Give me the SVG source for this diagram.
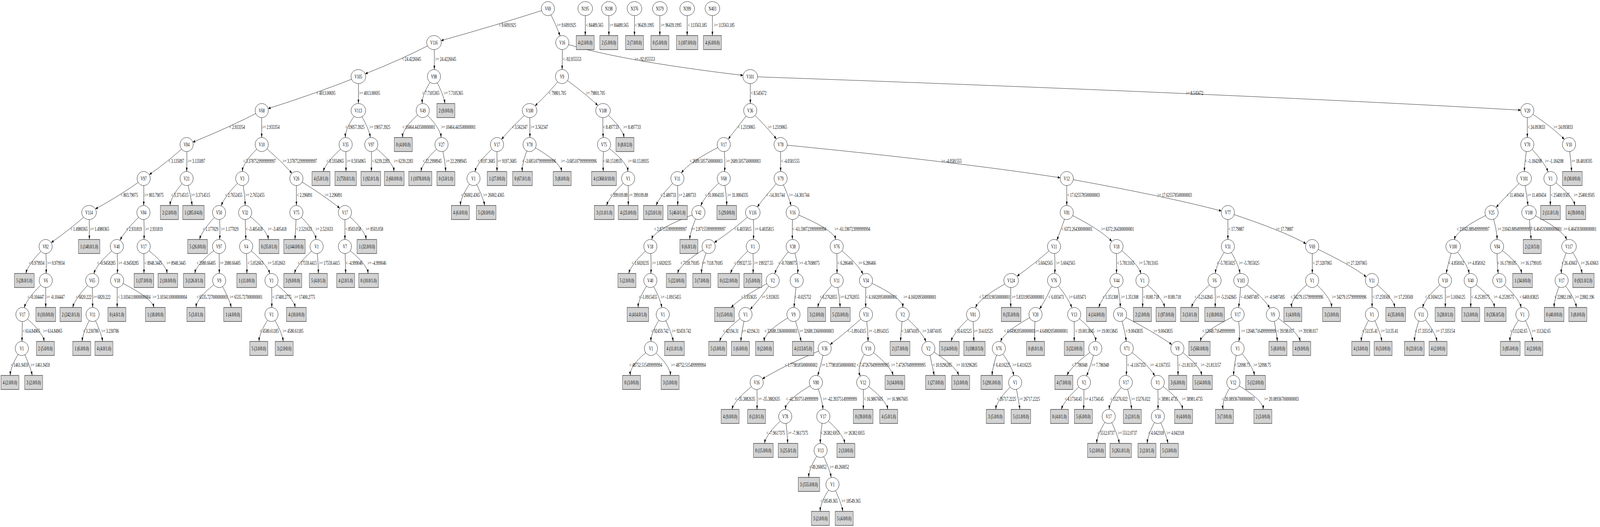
<svg xmlns="http://www.w3.org/2000/svg" width="6559" height="1349" viewBox="0 0 6559 1349" preserveAspectRatio="none">
<style>
svg:root{width:100vw;height:100vh}
text{font-family:"Liberation Serif","DejaVu Serif",serif;font-size:14px;text-anchor:middle;fill:#000}
.n ellipse{fill:#fff;stroke:#000;stroke-width:1}
.l rect{fill:#d3d3d3;stroke:#000;stroke-width:1}
#edges path{fill:none;stroke:#000;stroke-width:1;marker-end:url(#ah)}
</style>
<defs>
<marker id="ah" viewBox="0 0 10 7" refX="10" refY="3.5" markerWidth="10" markerHeight="7" orient="auto" markerUnits="userSpaceOnUse"><path d="M0,0L10,3.5L0,7z" fill="#000"/></marker>
</defs>
<rect x="0" y="0" width="6559" height="1349" fill="#fff"/>
<g id="edges">
<path d="M2246,22Q2030,65.5 1808,104"/>
<path d="M2246,22Q2281,65.5 2296,92"/>
<path d="M2399,22Q2400,65.5 2399,91"/>
<path d="M2496,22Q2496,65.5 2496,91"/>
<path d="M2601,22Q2601,65.5 2601,91"/>
<path d="M2705,22Q2705,65.5 2705,91"/>
<path d="M2817,22Q2817,65.5 2817,91"/>
<path d="M2920.5,22Q2920.5,65.5 2920.5,91"/>
<path d="M1779,109Q1646,152.5 1497,189"/>
<path d="M1779,109Q1782,152.5 1780,178"/>
<path d="M1469,196Q1295,239.5 1099,278"/>
<path d="M1469,196Q1470,239.5 1469,265"/>
<path d="M1779,196Q1729,239.5 1731,265"/>
<path d="M1779,196Q1818,239.5 1824,265"/>
<path d="M1073,283Q938,326.5 790,364"/>
<path d="M1073,283Q1072,326.5 1073,352"/>
<path d="M1469,283Q1414,326.5 1416,352"/>
<path d="M1469,283Q1512,326.5 1518,352"/>
<path d="M1733,283Q1648,326.5 1651,352"/>
<path d="M1733,283Q1806,326.5 1808,352"/>
<path d="M765,370Q689,413.5 612,447"/>
<path d="M765,370Q767,413.5 765,439"/>
<path d="M1073,370Q995,413.5 994,439"/>
<path d="M1073,370Q1156,413.5 1197,444"/>
<path d="M1417,370Q1337,413.5 1325,439"/>
<path d="M1417,370Q1419,413.5 1418,439"/>
<path d="M1522,370Q1524,413.5 1522,439"/>
<path d="M1522,370Q1613,413.5 1615,439"/>
<path d="M1810,370Q1731,413.5 1726,439"/>
<path d="M1810,370Q1825,413.5 1827,439"/>
<path d="M589,457Q493,500.5 391,535"/>
<path d="M589,457Q590,500.5 589,526"/>
<path d="M765,457Q700,500.5 697,526"/>
<path d="M765,457Q781,500.5 788,526"/>
<path d="M993,457Q921,500.5 907,527"/>
<path d="M993,457Q1004,500.5 1005,526"/>
<path d="M1215,457Q1215,500.5 1215,526"/>
<path d="M1215,457Q1329,500.5 1393,533"/>
<path d="M365,544Q287,587.5 210,621"/>
<path d="M365,544Q367,587.5 366,613"/>
<path d="M588,544Q515,587.5 492,615"/>
<path d="M588,544Q593,587.5 590,613"/>
<path d="M898,544Q829,587.5 818,613"/>
<path d="M898,544Q904,587.5 900,613"/>
<path d="M1005,544Q1006,587.5 1008,613"/>
<path d="M1005,544Q1096,587.5 1100,613"/>
<path d="M1215,544Q1212,587.5 1209,613"/>
<path d="M1215,544Q1291,587.5 1295,613"/>
<path d="M1414,544Q1414,587.5 1414,613"/>
<path d="M1414,544Q1497,587.5 1501,613"/>
<path d="M187,631Q116,674.5 106,700"/>
<path d="M187,631Q191,674.5 189,700"/>
<path d="M479,631Q396,674.5 385,701"/>
<path d="M479,631Q483,674.5 481,700"/>
<path d="M589,631Q591,674.5 590,700"/>
<path d="M589,631Q681,674.5 685,700"/>
<path d="M898,631Q804,674.5 799,700"/>
<path d="M898,631Q899,674.5 899,700"/>
<path d="M1009,631Q1013,674.5 1012,700"/>
<path d="M1009,631Q1095,674.5 1106,701"/>
<path d="M1298,631Q1218,674.5 1207,700"/>
<path d="M1298,631Q1305,674.5 1305,700"/>
<path d="M1414,631Q1416,674.5 1417,700"/>
<path d="M1414,631Q1505,674.5 1509,700"/>
<path d="M187.5,718Q111,761.5 99.5,788"/>
<path d="M187.5,718Q187,761.5 187.5,787"/>
<path d="M378,718Q309,761.5 298,787"/>
<path d="M378,718Q379,761.5 380,787"/>
<path d="M480,718Q481,761.5 480,787"/>
<path d="M480,718Q623,761.5 631,787"/>
<path d="M898.5,718Q805,761.5 804,787"/>
<path d="M898.5,718Q939,761.5 948,787"/>
<path d="M1113,718Q1115,761.5 1114,787"/>
<path d="M1113,718Q1204,761.5 1210,787"/>
<path d="M92,805Q91,848.5 90,874"/>
<path d="M92,805Q175,848.5 181,874"/>
<path d="M379.6,805Q339,848.5 337,874"/>
<path d="M379.6,805Q414,848.5 421,874"/>
<path d="M1113,805Q1063,848.5 1062,874"/>
<path d="M1113,805Q1156,848.5 1161,874"/>
<path d="M89.5,892Q43,935.5 42,961"/>
<path d="M89.5,892Q124,935.5 132,961"/>
<path d="M2305,109Q2305.5,152.5 2304,178"/>
<path d="M2305,109Q2524,154 3046,193"/>
<path d="M2304,196Q2248,239.5 2193,271"/>
<path d="M2304,196Q2400,239.5 2451,270"/>
<path d="M2171,283Q2096,326.5 2055.5,357"/>
<path d="M2171,283Q2173,326.5 2172,352"/>
<path d="M2472,283Q2470,326.5 2473,352"/>
<path d="M2472,283Q2553,326.5 2558,352"/>
<path d="M2037.5,370Q1957,413.5 1947,440"/>
<path d="M2037.5,370Q2037,413.5 2037.5,439"/>
<path d="M2171,370Q2139,413.5 2141,439"/>
<path d="M2171,370Q2298,413.5 2302,439"/>
<path d="M2476,370Q2470,413.5 2473.5,439"/>
<path d="M2476,370Q2572,413.5 2574,439"/>
<path d="M1941,457Q1888,500.5 1887.5,526"/>
<path d="M1941,457Q1979,500.5 1987,526"/>
<path d="M2575,457Q2500,500.5 2486.5,526"/>
<path d="M2575,457Q2576,500.5 2575.5,526"/>
<path d="M3075.5,196Q3076,239.5 3076,265"/>
<path d="M3075.5,196Q5063,240 6234,282"/>
<path d="M3075.5,283Q3023,326.5 2985,356"/>
<path d="M3075.5,283Q3146,326.5 3183,356"/>
<path d="M2967,370Q2826,413.5 2793,443"/>
<path d="M2967,370Q2974,413.5 2970,439"/>
<path d="M3200,370Q3200,413.5 3200,439"/>
<path d="M3200,370Q3927,414.5 4346,455"/>
<path d="M2777,457Q2706,500.5 2689.6,526"/>
<path d="M2777,457Q2779,500.5 2778,526"/>
<path d="M2967,457Q2888,500.5 2873,527"/>
<path d="M2967,457Q2979,500.5 2979,526"/>
<path d="M3200,457Q3139.5,500.5 3104,530"/>
<path d="M3200,457Q3232.5,500.5 3243,527"/>
<path d="M4373,457Q4373,500.5 4373,526"/>
<path d="M4373,457Q4780,502.5 5007,540"/>
<path d="M2863,544Q2680,587.5 2672,613"/>
<path d="M2863,544Q2831,587.5 2827,613"/>
<path d="M3086,544Q3008,587.5 2928,621"/>
<path d="M3086,544Q3092,587.5 3088,613"/>
<path d="M3249.5,544Q3247,587.5 3248.5,613"/>
<path d="M3249.5,544Q3419,587.5 3425.5,613"/>
<path d="M4373,544Q4350,587.5 4332,615"/>
<path d="M4373,544Q4512,587.5 4558,618"/>
<path d="M5033.5,544Q5034,587.5 5033.5,613"/>
<path d="M5033.5,544Q5262,591 5354,624"/>
<path d="M2666,631Q2588,674.5 2577.5,700"/>
<path d="M2666,631Q2671,674.5 2668,700"/>
<path d="M2905,631Q2787,674.5 2778,700"/>
<path d="M2905,631Q2875,674.5 2876,700"/>
<path d="M3086,631Q3007,674.5 2995,700"/>
<path d="M3086,631Q3089,674.5 3087,700"/>
<path d="M3249.5,631Q3188.5,674.5 3176,701"/>
<path d="M3249.5,631Q3274.5,674.5 3269.5,700"/>
<path d="M3430,631Q3432,674.5 3431,700"/>
<path d="M3430,631Q3517,674.5 3538,702"/>
<path d="M4321,631Q4243,674.5 4169,707"/>
<path d="M4321,631Q4327,674.5 4323.5,700"/>
<path d="M4577,631Q4577.5,674.5 4577,700"/>
<path d="M4577,631Q4667,674.5 4677,701"/>
<path d="M5033.5,631Q4986,674.5 4982,700"/>
<path d="M5033.5,631Q5077,674.5 5083,700"/>
<path d="M5379,631Q5380,674.5 5379.5,700"/>
<path d="M5379,631Q5542,679 5601,709"/>
<path d="M2666,718Q2616.5,761.5 2616,787"/>
<path d="M2666,718Q2706.5,761.5 2713,788"/>
<path d="M3167.5,718Q3036,761.5 2997,787"/>
<path d="M3167.5,718Q3120,761.5 3075,792"/>
<path d="M3266,718Q3258.5,761.5 3255,787"/>
<path d="M3430,718Q3359,761.5 3352.5,787"/>
<path d="M3430,718Q3442,761.5 3444,787"/>
<path d="M3550,718Q3548,761.5 3549,787"/>
<path d="M3550,718Q3702,761.5 3701,787"/>
<path d="M4145,718Q4015,761.5 3999,788"/>
<path d="M4145,718Q4141.5,761.5 4144,787"/>
<path d="M4321,718Q4294,761.5 4261,791"/>
<path d="M4321,718Q4379,761.5 4394,788"/>
<path d="M4577,718Q4518,761.5 4504,787"/>
<path d="M4577,718Q4593,761.5 4592,787"/>
<path d="M4683.4,718Q4685,761.5 4684,787"/>
<path d="M4683.4,718Q4767,761.5 4774,787"/>
<path d="M4979,718Q4895.5,761.5 4884.7,787"/>
<path d="M4979,718Q4983.5,761.5 4981,787"/>
<path d="M5087.5,718Q5083.5,761.5 5077.5,787"/>
<path d="M5087.5,718Q5182,761.5 5205,789"/>
<path d="M5379,718Q5289,761.5 5295.5,787"/>
<path d="M5379,718Q5458,761.5 5458.5,787"/>
<path d="M5624,718Q5625,761.5 5624.5,787"/>
<path d="M5624,718Q5712,761.5 5717.5,787"/>
<path d="M2717,805Q2668,848.5 2668.5,874"/>
<path d="M2717,805Q2752,848.5 2760,874"/>
<path d="M3056,805Q2962,848.5 2950,874"/>
<path d="M3056,805Q3040,848.5 3037,874"/>
<path d="M3252.7,805Q3132,848.5 3133,874"/>
<path d="M3252.7,805Q3274,848.5 3284.5,874"/>
<path d="M3550,805Q3472.5,848.5 3403,882"/>
<path d="M3550,805Q3558,848.5 3558.5,874"/>
<path d="M3700.6,805Q3694,848.5 3691.5,874"/>
<path d="M3700.6,805Q3780,848.5 3796,875"/>
<path d="M3989,805Q3910,848.5 3899,874"/>
<path d="M3989,805Q3990,848.5 3992.5,874"/>
<path d="M4245,805Q4114,848.5 4102,875"/>
<path d="M4245,805Q4239,848.5 4242.5,874"/>
<path d="M4403.5,805Q4404,848.5 4403.5,874"/>
<path d="M4403.5,805Q4493,848.5 4491,874"/>
<path d="M4591.5,805Q4613,848.5 4616.5,874"/>
<path d="M4591.5,805Q4727,848.5 4804,882"/>
<path d="M5073.5,805Q4927,848.5 4921,874"/>
<path d="M5073.5,805Q5086,848.5 5078.5,874"/>
<path d="M5218,805Q5233,848.5 5236.5,874"/>
<path d="M5218,805Q5321,848.5 5330,874"/>
<path d="M5624,805Q5582,848.5 5580,874"/>
<path d="M5624,805Q5658,848.5 5665,874"/>
<path d="M2668.6,892Q2578,935.5 2584.5,961"/>
<path d="M2668.6,892Q2749,935.5 2748,961"/>
<path d="M3380.6,892Q3215,935.5 3125,970"/>
<path d="M3380.6,892Q3364,935.5 3352,962"/>
<path d="M3559,892Q3508,935.5 3527,963"/>
<path d="M3559,892Q3651,935.5 3661.3,961"/>
<path d="M3805.7,892Q3822,935.5 3829.6,961"/>
<path d="M3805.7,892Q3918,935.5 3929.7,961"/>
<path d="M4094.6,892Q4069,935.5 4067,961"/>
<path d="M4094.6,892Q4148,935.5 4156,962"/>
<path d="M4490,892Q4392,935.5 4374,961"/>
<path d="M4490,892Q4472,935.5 4454,962.5"/>
<path d="M4619,892Q4619.5,935.5 4617,961"/>
<path d="M4619,892Q4712.5,935.5 4734,963"/>
<path d="M4826.5,892Q4829.5,935.5 4829,961"/>
<path d="M4826.5,892Q4920.5,935.5 4926,961"/>
<path d="M5073.5,892Q5058,935.5 5057,961"/>
<path d="M5073.5,892Q5136,935.5 5142.5,961"/>
<path d="M3102,979Q3011,1022.5 3000.5,1048"/>
<path d="M3102,979Q3105,1022.5 3103,1048"/>
<path d="M3344.8,979Q3220.5,1022.5 3220,1048"/>
<path d="M3344.8,979Q3371.5,1022.5 3373.5,1048"/>
<path d="M3538.7,979Q3540,1022.5 3539,1048"/>
<path d="M3538.7,979Q3634,1022.5 3639,1048"/>
<path d="M4161.5,979Q4085,1022.5 4082,1048"/>
<path d="M4161.5,979Q4175,1022.5 4181,1048"/>
<path d="M4443.5,979Q4363,1022.5 4351,1048"/>
<path d="M4443.5,979Q4444,1022.5 4442,1048"/>
<path d="M4615,979Q4549,1022.5 4547,1048"/>
<path d="M4615,979Q4635,1022.5 4639,1048"/>
<path d="M4746,979Q4748,1022.5 4747,1048"/>
<path d="M4746,979Q4843,1022.5 4848,1048"/>
<path d="M5056,979Q5007,1022.5 5014,1048"/>
<path d="M5056,979Q5180,1022.5 5178,1048"/>
<path d="M3219,1066Q3140.5,1109.5 3134,1135"/>
<path d="M3219,1066Q3227.5,1109.5 3229,1135"/>
<path d="M3375,1066Q3362,1109.5 3363,1135"/>
<path d="M3375,1066Q3457,1109.5 3463,1135"/>
<path d="M4545,1066Q4497,1109.5 4496,1135"/>
<path d="M4545,1066Q4581,1109.5 4588.6,1135"/>
<path d="M4746.5,1066Q4705,1109.5 4703,1135"/>
<path d="M4746.5,1066Q4780,1109.5 4788,1135"/>
<path d="M3364,1153Q3315,1196.5 3315.5,1222"/>
<path d="M3364,1153Q3400,1196.5 3407.5,1222"/>
<path d="M3412.7,1240Q3362,1283.5 3362.5,1309"/>
<path d="M3412.7,1240Q3448,1283.5 3455.4,1309"/>
<path d="M6261,283Q6261,326.5 6261,352"/>
<path d="M6261,283Q6367,326.5 6413,357"/>
<path d="M6261,370Q6250,413.5 6249,439"/>
<path d="M6261,370Q6331,413.5 6346,440"/>
<path d="M6432,370Q6439,413.5 6443,439"/>
<path d="M6248,457Q6175,500.5 6133,531"/>
<path d="M6248,457Q6258,500.5 6264,526"/>
<path d="M6356,457Q6355,500.5 6355.5,526"/>
<path d="M6356,457Q6449,500.5 6455.5,526"/>
<path d="M6114.6,544Q5970,587.5 5962,614"/>
<path d="M6114.6,544Q6137,587.5 6137,613"/>
<path d="M6268,544Q6272,587.5 6277,613"/>
<path d="M6268,544Q6408,587.5 6422.5,614"/>
<path d="M5957,631Q5936,674.5 5928.5,700"/>
<path d="M5957,631Q6015,674.5 6023,700.5"/>
<path d="M6137,631Q6136,674.5 6142,700"/>
<path d="M6137,631Q6232,674.5 6237.6,700"/>
<path d="M6432,631Q6399,674.5 6400.5,700"/>
<path d="M6432,631Q6478,674.5 6485.6,700"/>
<path d="M5923.5,718Q5841,761.5 5832,788"/>
<path d="M5923.5,718Q5926,761.5 5924.5,787"/>
<path d="M6029,718Q6029.5,761.5 6029,787"/>
<path d="M6029,718Q6121.5,761.5 6126.5,787"/>
<path d="M6146,718Q6228,761.5 6235.6,788"/>
<path d="M6401.6,718Q6371,761.5 6371,787"/>
<path d="M6401.6,718Q6455,761.5 6462.6,787"/>
<path d="M5826,805Q5799,848.5 5798.5,874"/>
<path d="M5826,805Q5884,848.5 5890.5,874"/>
<path d="M6241,805Q6189,848.5 6190,874"/>
<path d="M6241,805Q6277,848.5 6283.5,874"/>
</g>
<g id="edge-labels">
<text x="2080" y="69.5">&lt; 9.6091925</text>
<text x="2322" y="69.5">&gt;= 9.6091925</text>
<text x="2437.5" y="69.5">&lt; 84489.565</text>
<text x="2537.5" y="69.5">&gt;= 84489.565</text>
<text x="2642" y="69.5">&lt; 96439.1995</text>
<text x="2751" y="69.5">&gt;= 96439.1995</text>
<text x="2859" y="69.5">&lt; 113563.185</text>
<text x="2969" y="69.5">&gt;= 113563.185</text>
<text x="1687" y="156.5">&lt; 24.4226045</text>
<text x="1827" y="156.5">&gt;= 24.4226045</text>
<text x="1336" y="243.5">&lt; 4013.00695</text>
<text x="1515" y="243.5">&gt;= 4013.00695</text>
<text x="1766" y="243.5">&lt; 7.7105365</text>
<text x="1859" y="243.5">&gt;= 7.7105365</text>
<text x="972" y="330.5">&lt; 2.933354</text>
<text x="1110" y="330.5">&gt;= 2.933354</text>
<text x="1455" y="330.5">&lt; 19057.3925</text>
<text x="1557" y="330.5">&gt;= 19057.3925</text>
<text x="1717" y="330.5">&lt; 10464.443500000001</text>
<text x="1879" y="330.5">&gt;= 10464.443500000001</text>
<text x="722.5" y="417.5">&lt; 3.135097</text>
<text x="805" y="417.5">&gt;= 3.135097</text>
<text x="1064" y="417.5">&lt; 3.3787529999999997</text>
<text x="1229" y="417.5">&gt;= 3.3787529999999997</text>
<text x="1374" y="417.5">&lt; 0.5934965</text>
<text x="1460" y="417.5">&gt;= 0.5934965</text>
<text x="1561" y="417.5">&lt; 6239.2283</text>
<text x="1654" y="417.5">&gt;= 6239.2283</text>
<text x="1772" y="417.5">&lt; 22.2998945</text>
<text x="1870" y="417.5">&gt;= 22.2998945</text>
<text x="530" y="504.5">&lt; 803.79075</text>
<text x="631" y="504.5">&gt;= 803.79075</text>
<text x="737" y="504.5">&lt; 3.3714515</text>
<text x="822" y="504.5">&gt;= 3.3714515</text>
<text x="958" y="504.5">&lt; 2.7652455</text>
<text x="1045" y="504.5">&gt;= 2.7652455</text>
<text x="1249" y="504.5">&lt; 2.296891</text>
<text x="1367" y="504.5">&gt;= 2.296891</text>
<text x="324" y="591.5">&lt; 1.4980365</text>
<text x="408" y="591.5">&gt;= 1.4980365</text>
<text x="549" y="591.5">&lt; 2.931819</text>
<text x="631" y="591.5">&gt;= 2.931819</text>
<text x="863" y="591.5">&lt; 1.177029</text>
<text x="941.5" y="591.5">&gt;= 1.177029</text>
<text x="1042" y="591.5">&lt; -3.405418</text>
<text x="1136" y="591.5">&gt;= -3.405418</text>
<text x="1246" y="591.5">&lt; 2.521633</text>
<text x="1329" y="591.5">&gt;= 2.521633</text>
<text x="1448" y="591.5">&lt; 8503.058</text>
<text x="1535" y="591.5">&gt;= 8503.058</text>
<text x="150" y="678.5">&lt; 0.979934</text>
<text x="229" y="678.5">&gt;= 0.979934</text>
<text x="436" y="678.5">&lt; -0.9458285</text>
<text x="527" y="678.5">&gt;= -0.9458285</text>
<text x="628" y="678.5">&lt; 8948.3445</text>
<text x="722" y="678.5">&gt;= 8948.3445</text>
<text x="845" y="678.5">&lt; 2080.66405</text>
<text x="943.5" y="678.5">&gt;= 2080.66405</text>
<text x="1047" y="678.5">&lt; 5.052663</text>
<text x="1133" y="678.5">&gt;= 5.052663</text>
<text x="1259" y="678.5">&lt; 17559.4415</text>
<text x="1350" y="678.5">&gt;= 17559.4415</text>
<text x="1452" y="678.5">&lt; -4.999046</text>
<text x="1545" y="678.5">&gt;= -4.999046</text>
<text x="147" y="765.5">&lt; -0.104447</text>
<text x="227" y="765.5">&gt;= -0.104447</text>
<text x="343" y="765.5">&lt; 6820.222</text>
<text x="417" y="765.5">&gt;= 6820.222</text>
<text x="550" y="765.5">&lt; 3.1034110000000004</text>
<text x="696" y="765.5">&gt;= 3.1034110000000004</text>
<text x="870" y="765.5">&lt; 6535.727000000001</text>
<text x="1008.6" y="765.5">&gt;= 6535.727000000001</text>
<text x="1156" y="765.5">&lt; 17400.2775</text>
<text x="1249" y="765.5">&gt;= 17400.2775</text>
<text x="128.5" y="852.5">&lt; 614.84965</text>
<text x="216" y="852.5">&gt;= 614.84965</text>
<text x="372.6" y="852.5">&lt; 3.230786</text>
<text x="451.6" y="852.5">&gt;= 3.230786</text>
<text x="1104" y="852.5">&lt; 4580.61185</text>
<text x="1201" y="852.5">&gt;= 4580.61185</text>
<text x="80" y="939.5">&lt; 1461.9459</text>
<text x="164.8" y="939.5">&gt;= 1461.9459</text>
<text x="2345" y="156.5">&lt; -92.055553</text>
<text x="2643" y="156.5">&gt;= -92.055553</text>
<text x="2285" y="243.5">&lt; 79801.705</text>
<text x="2441" y="243.5">&gt;= 79801.705</text>
<text x="2130.5" y="330.5">&lt; 3.562347</text>
<text x="2211" y="330.5">&gt;= 3.562347</text>
<text x="2504" y="330.5">&lt; 8.497733</text>
<text x="2591" y="330.5">&gt;= 8.497733</text>
<text x="1994" y="417.5">&lt; 9197.3685</text>
<text x="2078" y="417.5">&gt;= 9197.3685</text>
<text x="2210" y="417.5">&lt; -3.6851079999999996</text>
<text x="2373" y="417.5">&gt;= -3.6851079999999996</text>
<text x="2511" y="417.5">&lt; 60.1518935</text>
<text x="2617" y="417.5">&gt;= 60.1518935</text>
<text x="1929" y="504.5">&lt; 26002.4365</text>
<text x="2024" y="504.5">&gt;= 26002.4365</text>
<text x="2537" y="504.5">&lt; 399109.88</text>
<text x="2617" y="504.5">&gt;= 399109.88</text>
<text x="3110" y="243.5">&lt; 8.545672</text>
<text x="4897" y="243.5">&gt;= 8.545672</text>
<text x="3060" y="330.5">&lt; 1.2319065</text>
<text x="3187" y="330.5">&gt;= 1.2319065</text>
<text x="2894.5" y="417.5">&lt; 2689.5057500000003</text>
<text x="3047" y="417.5">&gt;= 2689.5057500000003</text>
<text x="3240" y="417.5">&lt; -4.0581555</text>
<text x="3900.5" y="417.5">&gt;= -4.0581555</text>
<text x="2739.5" y="504.5">&lt; 2.480733</text>
<text x="2817" y="504.5">&gt;= 2.480733</text>
<text x="2929" y="504.5">&lt; 31.0004335</text>
<text x="3024" y="504.5">&gt;= 31.0004335</text>
<text x="3179" y="504.5">&lt; -14.301744</text>
<text x="3276" y="504.5">&gt;= -14.301744</text>
<text x="4442" y="504.5">&lt; 17.625578500000003</text>
<text x="4815" y="504.5">&gt;= 17.625578500000003</text>
<text x="2749" y="591.5">&lt; 2.8715599999999997</text>
<text x="2904" y="591.5">&gt;= 2.8715599999999997</text>
<text x="3045" y="591.5">&lt; 6.4035815</text>
<text x="3133" y="591.5">&gt;= 6.4035815</text>
<text x="3318" y="591.5">&lt; -61.590723999999994</text>
<text x="3494" y="591.5">&gt;= -61.590723999999994</text>
<text x="4415" y="591.5">&lt; 6372.264300000001</text>
<text x="4581" y="591.5">&gt;= 6372.264300000001</text>
<text x="5068" y="591.5">&lt; 17.79887</text>
<text x="5266" y="591.5">&gt;= 17.79887</text>
<text x="2625" y="678.5">&lt; 1.6020235</text>
<text x="2712" y="678.5">&gt;= 1.6020235</text>
<text x="2828" y="678.5">&lt; 7118.79185</text>
<text x="2920" y="678.5">&gt;= 7118.79185</text>
<text x="3044.6" y="678.5">&lt; 199327.55</text>
<text x="3130" y="678.5">&gt;= 199327.55</text>
<text x="3228" y="678.5">&lt; -0.7698075</text>
<text x="3318" y="678.5">&gt;= -0.7698075</text>
<text x="3465.6" y="678.5">&lt; 6.286466</text>
<text x="3555" y="678.5">&gt;= 6.286466</text>
<text x="4280" y="678.5">&lt; 5.6042565</text>
<text x="4368" y="678.5">&gt;= 5.6042565</text>
<text x="4614.7" y="678.5">&lt; 5.7813165</text>
<text x="4708" y="678.5">&gt;= 5.7813165</text>
<text x="5025.8" y="678.5">&lt; -5.7855025</text>
<text x="5120.5" y="678.5">&gt;= -5.7855025</text>
<text x="5421" y="678.5">&lt; 27.3207065</text>
<text x="5561" y="678.5">&gt;= 27.3207065</text>
<text x="2656" y="765.5">&lt; -1.0915455</text>
<text x="2750" y="765.5">&gt;= -1.0915455</text>
<text x="3070" y="765.5">&lt; 5.933635</text>
<text x="3157.6" y="765.5">&gt;= 5.933635</text>
<text x="3291" y="765.5">&lt; -0.025752</text>
<text x="3396" y="765.5">&lt; 6.2762055</text>
<text x="3483" y="765.5">&gt;= 6.2762055</text>
<text x="3613" y="765.5">&lt; 4.160209500000001</text>
<text x="3771" y="765.5">&gt;= 4.160209500000001</text>
<text x="4078" y="765.5">&lt; 5.833190500000001</text>
<text x="4214" y="765.5">&gt;= 5.833190500000001</text>
<text x="4330" y="765.5">&lt; 6.693471</text>
<text x="4417" y="765.5">&gt;= 6.693471</text>
<text x="4551.5" y="765.5">&lt; 1.351308</text>
<text x="4631" y="765.5">&gt;= 1.351308</text>
<text x="4719" y="765.5">&lt; 8180.718</text>
<text x="4805" y="765.5">&gt;= 8180.718</text>
<text x="4935" y="765.5">&lt; -5.2142845</text>
<text x="5027" y="765.5">&gt;= -5.2142845</text>
<text x="5123" y="765.5">&lt; -0.9497495</text>
<text x="5225.7" y="765.5">&gt;= -0.9497495</text>
<text x="5358" y="765.5">&lt; 34279.157999999996</text>
<text x="5531" y="765.5">&gt;= 34279.157999999996</text>
<text x="5662" y="765.5">&lt; 17.259569</text>
<text x="5753" y="765.5">&gt;= 17.259569</text>
<text x="2705" y="852.5">&lt; 92459.742</text>
<text x="2793.5" y="852.5">&gt;= 92459.742</text>
<text x="2996" y="852.5">&lt; 42194.31</text>
<text x="3078" y="852.5">&gt;= 42194.31</text>
<text x="3201" y="852.5">&lt; 32688.336000000003</text>
<text x="3347" y="852.5">&gt;= 32688.336000000003</text>
<text x="3512" y="852.5">&lt; -1.8914315</text>
<text x="3601.7" y="852.5">&gt;= -1.8914315</text>
<text x="3731" y="852.5">&lt; 3.6874105</text>
<text x="3821" y="852.5">&gt;= 3.6874105</text>
<text x="3947.5" y="852.5">&lt; 314.02525</text>
<text x="4031" y="852.5">&gt;= 314.02525</text>
<text x="4179.6" y="852.5">&lt; 4.649820500000001</text>
<text x="4310" y="852.5">&gt;= 4.649820500000001</text>
<text x="4447" y="852.5">&lt; 19.0013845</text>
<text x="4539" y="852.5">&gt;= 19.0013845</text>
<text x="4650" y="852.5">&lt; 9.0043835</text>
<text x="4768" y="852.5">&gt;= 9.0043835</text>
<text x="4995.6" y="852.5">&lt; 12048.716499999999</text>
<text x="5159" y="852.5">&gt;= 12048.716499999999</text>
<text x="5270" y="852.5">&lt; 39198.017</text>
<text x="5362.5" y="852.5">&gt;= 39198.017</text>
<text x="5616" y="852.5">&lt; 51135.41</text>
<text x="5696" y="852.5">&gt;= 51135.41</text>
<text x="2647" y="939.5">&lt; 48752.515499999994</text>
<text x="2822" y="939.5">&gt;= 48752.515499999994</text>
<text x="3284" y="939.5">&lt; 1.7798185000000002</text>
<text x="3437" y="939.5">&gt;= 1.7798185000000002</text>
<text x="3579" y="939.5">&lt; 7.4726704999999995</text>
<text x="3724" y="939.5">&gt;= 7.4726704999999995</text>
<text x="3863" y="939.5">&lt; 10.9296285</text>
<text x="3963" y="939.5">&gt;= 10.9296285</text>
<text x="4106.6" y="939.5">&lt; 6.4116225</text>
<text x="4189" y="939.5">&gt;= 6.4116225</text>
<text x="4425.5" y="939.5">&lt; 7.786948</text>
<text x="4510" y="939.5">&gt;= 7.786948</text>
<text x="4659" y="939.5">&lt; -4.1167355</text>
<text x="4756" y="939.5">&gt;= -4.1167355</text>
<text x="4869" y="939.5">&lt; -21.813157</text>
<text x="4964" y="939.5">&gt;= -21.813157</text>
<text x="5092" y="939.5">&lt; 52098.75</text>
<text x="5174" y="939.5">&gt;= 52098.75</text>
<text x="3054" y="1026.5">&lt; -35.3882635</text>
<text x="3152" y="1026.5">&gt;= -35.3882635</text>
<text x="3288" y="1026.5">&lt; -42.39375149999999</text>
<text x="3443" y="1026.5">&gt;= -42.39375149999999</text>
<text x="3580.6" y="1026.5">&lt; 16.9867605</text>
<text x="3679" y="1026.5">&gt;= 16.9867605</text>
<text x="4126" y="1026.5">&lt; 26717.2225</text>
<text x="4220" y="1026.5">&gt;= 26717.2225</text>
<text x="4400" y="1026.5">&lt; 4.1734145</text>
<text x="4485" y="1026.5">&gt;= 4.1734145</text>
<text x="4586.6" y="1026.5">&lt; 15276.022</text>
<text x="4676" y="1026.5">&gt;= 15276.022</text>
<text x="4788.6" y="1026.5">&lt; 38981.4735</text>
<text x="4887.6" y="1026.5">&gt;= 38981.4735</text>
<text x="5076" y="1026.5">&lt; 20.089367000000003</text>
<text x="5253" y="1026.5">&gt;= 20.089367000000003</text>
<text x="3180" y="1113.5">&lt; -7.9617375</text>
<text x="3271" y="1113.5">&gt;= -7.9617375</text>
<text x="3403" y="1113.5">&lt; 26382.6955</text>
<text x="3502" y="1113.5">&gt;= 26382.6955</text>
<text x="4534" y="1113.5">&lt; 5512.0737</text>
<text x="4622" y="1113.5">&gt;= 5512.0737</text>
<text x="4739" y="1113.5">&lt; 4.042318</text>
<text x="4818" y="1113.5">&gt;= 4.042318</text>
<text x="3352.6" y="1200.5">&lt; 49.260052</text>
<text x="3441" y="1200.5">&gt;= 49.260052</text>
<text x="3399" y="1287.5">&lt; 18549.365</text>
<text x="3489" y="1287.5">&gt;= 18549.365</text>
<text x="6298" y="330.5">&lt; 24.093833</text>
<text x="6408" y="330.5">&gt;= 24.093833</text>
<text x="6286" y="417.5">&lt; -1.184208</text>
<text x="6371" y="417.5">&gt;= -1.184208</text>
<text x="6484" y="417.5">&gt;= 18.4818595</text>
<text x="6212" y="504.5">&lt; 11.469434</text>
<text x="6299" y="504.5">&gt;= 11.469434</text>
<text x="6396" y="504.5">&lt; 25400.9505</text>
<text x="6494" y="504.5">&gt;= 25400.9505</text>
<text x="6039" y="591.5">&lt; 21043.889499999997</text>
<text x="6210" y="591.5">&gt;= 21043.889499999997</text>
<text x="6339" y="591.5">&lt; 6.464593000000001</text>
<text x="6477" y="591.5">&gt;= 6.464593000000001</text>
<text x="5970" y="678.5">&lt; 4.858162</text>
<text x="6052.5" y="678.5">&gt;= 4.858162</text>
<text x="6177" y="678.5">&lt; 16.1799105</text>
<text x="6276.7" y="678.5">&gt;= 16.1799105</text>
<text x="6433" y="678.5">&lt; 26.43663</text>
<text x="6516" y="678.5">&gt;= 26.43663</text>
<text x="5878" y="765.5">&lt; 5.1694125</text>
<text x="5967" y="765.5">&gt;= 5.1694125</text>
<text x="6069" y="765.5">&lt; -6.2539575</text>
<text x="6165" y="765.5">&gt;= -6.2539575</text>
<text x="6269" y="765.5">&lt; 6469.83825</text>
<text x="6408" y="765.5">&lt; 22882.196</text>
<text x="6496" y="765.5">&gt;= 22882.196</text>
<text x="5836" y="852.5">&lt; 17.335154</text>
<text x="5925" y="852.5">&gt;= 17.335154</text>
<text x="6226" y="852.5">&lt; 111242.65</text>
<text x="6318" y="852.5">&gt;= 111242.65</text>
</g>
<g id="nodes">
<g id="n_V69" class="n"><ellipse cx="2246" cy="22" rx="27" ry="18"/><text x="2246" y="27">V69</text></g>
<g id="n_N195" class="n"><ellipse cx="2399" cy="22" rx="30" ry="18"/><text x="2399" y="27">N195</text></g>
<g id="n_N198" class="n"><ellipse cx="2496" cy="22" rx="30" ry="18"/><text x="2496" y="27">N198</text></g>
<g id="n_N376" class="n"><ellipse cx="2601" cy="22" rx="30" ry="18"/><text x="2601" y="27">N376</text></g>
<g id="n_N379" class="n"><ellipse cx="2705" cy="22" rx="30" ry="18"/><text x="2705" y="27">N379</text></g>
<g id="n_N399" class="n"><ellipse cx="2817" cy="22" rx="30" ry="18"/><text x="2817" y="27">N399</text></g>
<g id="n_N403" class="n"><ellipse cx="2920.5" cy="22" rx="30" ry="18"/><text x="2920.5" y="27">N403</text></g>
<g id="n_V116_a" class="n"><ellipse cx="1779" cy="109" rx="30" ry="18"/><text x="1779" y="114">V116</text></g>
<g id="n_V16_a" class="n"><ellipse cx="2305" cy="109" rx="27" ry="18"/><text x="2305" y="114">V16</text></g>
<g id="n_V105" class="n"><ellipse cx="1469" cy="196" rx="30" ry="18"/><text x="1469" y="201">V105</text></g>
<g id="n_V98" class="n"><ellipse cx="1779" cy="196" rx="27" ry="18"/><text x="1779" y="201">V98</text></g>
<g id="n_V9_a" class="n"><ellipse cx="2304" cy="196" rx="27" ry="18"/><text x="2304" y="201">V9</text></g>
<g id="n_V101_a" class="n"><ellipse cx="3075.5" cy="196" rx="30" ry="18"/><text x="3075.5" y="201">V101</text></g>
<g id="n_V68_a" class="n"><ellipse cx="1073" cy="283" rx="27" ry="18"/><text x="1073" y="288">V68</text></g>
<g id="n_V113" class="n"><ellipse cx="1469" cy="283" rx="30" ry="18"/><text x="1469" y="288">V113</text></g>
<g id="n_V49" class="n"><ellipse cx="1733" cy="283" rx="27" ry="18"/><text x="1733" y="288">V49</text></g>
<g id="n_V100_a" class="n"><ellipse cx="2171" cy="283" rx="30" ry="18"/><text x="2171" y="288">V100</text></g>
<g id="n_V108" class="n"><ellipse cx="2472" cy="283" rx="30" ry="18"/><text x="2472" y="288">V108</text></g>
<g id="n_V36_a" class="n"><ellipse cx="3075.5" cy="283" rx="27" ry="18"/><text x="3075.5" y="288">V36</text></g>
<g id="n_V20_a" class="n"><ellipse cx="6261" cy="283" rx="27" ry="18"/><text x="6261" y="288">V20</text></g>
<g id="n_V84_a" class="n"><ellipse cx="765" cy="370" rx="27" ry="18"/><text x="765" y="375">V84</text></g>
<g id="n_V10_a" class="n"><ellipse cx="1073" cy="370" rx="27" ry="18"/><text x="1073" y="375">V10</text></g>
<g id="n_V35" class="n"><ellipse cx="1417" cy="370" rx="27" ry="18"/><text x="1417" y="375">V35</text></g>
<g id="n_V97_b" class="n"><ellipse cx="1522" cy="370" rx="27" ry="18"/><text x="1522" y="375">V97</text></g>
<g id="n_V27" class="n"><ellipse cx="1810" cy="370" rx="27" ry="18"/><text x="1810" y="375">V27</text></g>
<g id="n_V17_d" class="n"><ellipse cx="2037.5" cy="370" rx="27" ry="18"/><text x="2037.5" y="375">V17</text></g>
<g id="n_V78_a" class="n"><ellipse cx="2171" cy="370" rx="27" ry="18"/><text x="2171" y="375">V78</text></g>
<g id="n_V75_b" class="n"><ellipse cx="2476" cy="370" rx="27" ry="18"/><text x="2476" y="375">V75</text></g>
<g id="n_V17_e" class="n"><ellipse cx="2967" cy="370" rx="27" ry="18"/><text x="2967" y="375">V17</text></g>
<g id="n_V78_b" class="n"><ellipse cx="3200" cy="370" rx="27" ry="18"/><text x="3200" y="375">V78</text></g>
<g id="n_V70" class="n"><ellipse cx="6261" cy="370" rx="27" ry="18"/><text x="6261" y="375">V70</text></g>
<g id="n_V10_e" class="n"><ellipse cx="6432" cy="370" rx="27" ry="18"/><text x="6432" y="375">V10</text></g>
<g id="n_V97_a" class="n"><ellipse cx="589" cy="457" rx="27" ry="18"/><text x="589" y="462">V97</text></g>
<g id="n_V21" class="n"><ellipse cx="765" cy="457" rx="27" ry="18"/><text x="765" y="462">V21</text></g>
<g id="n_V3_a" class="n"><ellipse cx="993" cy="457" rx="27" ry="18"/><text x="993" y="462">V3</text></g>
<g id="n_V26" class="n"><ellipse cx="1215" cy="457" rx="27" ry="18"/><text x="1215" y="462">V26</text></g>
<g id="n_V1_e" class="n"><ellipse cx="1941" cy="457" rx="27" ry="18"/><text x="1941" y="462">V1</text></g>
<g id="n_V1_f" class="n"><ellipse cx="2575" cy="457" rx="27" ry="18"/><text x="2575" y="462">V1</text></g>
<g id="n_V11_b" class="n"><ellipse cx="2777" cy="457" rx="27" ry="18"/><text x="2777" y="462">V11</text></g>
<g id="n_V68_b" class="n"><ellipse cx="2967" cy="457" rx="27" ry="18"/><text x="2967" y="462">V68</text></g>
<g id="n_V79" class="n"><ellipse cx="3200" cy="457" rx="27" ry="18"/><text x="3200" y="462">V79</text></g>
<g id="n_V12_a" class="n"><ellipse cx="4373" cy="457" rx="27" ry="18"/><text x="4373" y="462">V12</text></g>
<g id="n_V101_b" class="n"><ellipse cx="6248" cy="457" rx="30" ry="18"/><text x="6248" y="462">V101</text></g>
<g id="n_V1_r" class="n"><ellipse cx="6356" cy="457" rx="27" ry="18"/><text x="6356" y="462">V1</text></g>
<g id="n_V114" class="n"><ellipse cx="365" cy="544" rx="30" ry="18"/><text x="365" y="549">V114</text></g>
<g id="n_V84_b" class="n"><ellipse cx="588" cy="544" rx="27" ry="18"/><text x="588" y="549">V84</text></g>
<g id="n_V50" class="n"><ellipse cx="898" cy="544" rx="27" ry="18"/><text x="898" y="549">V50</text></g>
<g id="n_V32" class="n"><ellipse cx="1005" cy="544" rx="27" ry="18"/><text x="1005" y="549">V32</text></g>
<g id="n_V75_a" class="n"><ellipse cx="1215" cy="544" rx="27" ry="18"/><text x="1215" y="549">V75</text></g>
<g id="n_V17_a" class="n"><ellipse cx="1414" cy="544" rx="27" ry="18"/><text x="1414" y="549">V17</text></g>
<g id="n_V42" class="n"><ellipse cx="2863" cy="544" rx="27" ry="18"/><text x="2863" y="549">V42</text></g>
<g id="n_V116_b" class="n"><ellipse cx="3086" cy="544" rx="30" ry="18"/><text x="3086" y="549">V116</text></g>
<g id="n_V16_b" class="n"><ellipse cx="3249.5" cy="544" rx="27" ry="18"/><text x="3249.5" y="549">V16</text></g>
<g id="n_V81_a" class="n"><ellipse cx="4373" cy="544" rx="27" ry="18"/><text x="4373" y="549">V81</text></g>
<g id="n_V77" class="n"><ellipse cx="5033.5" cy="544" rx="27" ry="18"/><text x="5033.5" y="549">V77</text></g>
<g id="n_V25" class="n"><ellipse cx="6114.6" cy="544" rx="27" ry="18"/><text x="6114.6" y="549">V25</text></g>
<g id="n_V100_b" class="n"><ellipse cx="6268" cy="544" rx="30" ry="18"/><text x="6268" y="549">V100</text></g>
<g id="n_V82" class="n"><ellipse cx="187" cy="631" rx="27" ry="18"/><text x="187" y="636">V82</text></g>
<g id="n_V40_a" class="n"><ellipse cx="479" cy="631" rx="27" ry="18"/><text x="479" y="636">V40</text></g>
<g id="n_V17_b" class="n"><ellipse cx="589" cy="631" rx="27" ry="18"/><text x="589" y="636">V17</text></g>
<g id="n_V97_c" class="n"><ellipse cx="898" cy="631" rx="27" ry="18"/><text x="898" y="636">V97</text></g>
<g id="n_V4" class="n"><ellipse cx="1009" cy="631" rx="27" ry="18"/><text x="1009" y="636">V4</text></g>
<g id="n_V1_a" class="n"><ellipse cx="1298" cy="631" rx="27" ry="18"/><text x="1298" y="636">V1</text></g>
<g id="n_V7" class="n"><ellipse cx="1414" cy="631" rx="27" ry="18"/><text x="1414" y="636">V7</text></g>
<g id="n_V18_b" class="n"><ellipse cx="2666" cy="631" rx="27" ry="18"/><text x="2666" y="636">V18</text></g>
<g id="n_V17_f" class="n"><ellipse cx="2905" cy="631" rx="27" ry="18"/><text x="2905" y="636">V17</text></g>
<g id="n_V1_g" class="n"><ellipse cx="3086" cy="631" rx="27" ry="18"/><text x="3086" y="636">V1</text></g>
<g id="n_V38" class="n"><ellipse cx="3249.5" cy="631" rx="27" ry="18"/><text x="3249.5" y="636">V38</text></g>
<g id="n_V76_a" class="n"><ellipse cx="3430" cy="631" rx="27" ry="18"/><text x="3430" y="636">V76</text></g>
<g id="n_V11_c" class="n"><ellipse cx="4321" cy="631" rx="27" ry="18"/><text x="4321" y="636">V11</text></g>
<g id="n_V18_c" class="n"><ellipse cx="4577" cy="631" rx="27" ry="18"/><text x="4577" y="636">V18</text></g>
<g id="n_V31_b" class="n"><ellipse cx="5033.5" cy="631" rx="27" ry="18"/><text x="5033.5" y="636">V31</text></g>
<g id="n_V69_b" class="n"><ellipse cx="5379" cy="631" rx="27" ry="18"/><text x="5379" y="636">V69</text></g>
<g id="n_V100_c" class="n"><ellipse cx="5957" cy="631" rx="30" ry="18"/><text x="5957" y="636">V100</text></g>
<g id="n_V84_c" class="n"><ellipse cx="6137" cy="631" rx="27" ry="18"/><text x="6137" y="636">V84</text></g>
<g id="n_V117" class="n"><ellipse cx="6432" cy="631" rx="30" ry="18"/><text x="6432" y="636">V117</text></g>
<g id="n_V6_a" class="n"><ellipse cx="187.5" cy="718" rx="27" ry="18"/><text x="187.5" y="723">V6</text></g>
<g id="n_V65" class="n"><ellipse cx="378" cy="718" rx="27" ry="18"/><text x="378" y="723">V65</text></g>
<g id="n_V18_a" class="n"><ellipse cx="480" cy="718" rx="27" ry="18"/><text x="480" y="723">V18</text></g>
<g id="n_V9_b" class="n"><ellipse cx="898.5" cy="718" rx="27" ry="18"/><text x="898.5" y="723">V9</text></g>
<g id="n_V1_b" class="n"><ellipse cx="1113" cy="718" rx="27" ry="18"/><text x="1113" y="723">V1</text></g>
<g id="n_V40_b" class="n"><ellipse cx="2666" cy="718" rx="27" ry="18"/><text x="2666" y="723">V40</text></g>
<g id="n_V2_a" class="n"><ellipse cx="3167.5" cy="718" rx="27" ry="18"/><text x="3167.5" y="723">V2</text></g>
<g id="n_V6_b" class="n"><ellipse cx="3266" cy="718" rx="27" ry="18"/><text x="3266" y="723">V6</text></g>
<g id="n_V11_d" class="n"><ellipse cx="3430" cy="718" rx="27" ry="18"/><text x="3430" y="723">V11</text></g>
<g id="n_V34" class="n"><ellipse cx="3550" cy="718" rx="27" ry="18"/><text x="3550" y="723">V34</text></g>
<g id="n_V124" class="n"><ellipse cx="4145" cy="718" rx="30" ry="18"/><text x="4145" y="723">V124</text></g>
<g id="n_V76_b" class="n"><ellipse cx="4321" cy="718" rx="27" ry="18"/><text x="4321" y="723">V76</text></g>
<g id="n_V44" class="n"><ellipse cx="4577" cy="718" rx="27" ry="18"/><text x="4577" y="723">V44</text></g>
<g id="n_V1_h" class="n"><ellipse cx="4683.4" cy="718" rx="27" ry="18"/><text x="4683.4" y="723">V1</text></g>
<g id="n_V6_c" class="n"><ellipse cx="4979" cy="718" rx="27" ry="18"/><text x="4979" y="723">V6</text></g>
<g id="n_V103" class="n"><ellipse cx="5087.5" cy="718" rx="30" ry="18"/><text x="5087.5" y="723">V103</text></g>
<g id="n_V1_i" class="n"><ellipse cx="5379" cy="718" rx="27" ry="18"/><text x="5379" y="723">V1</text></g>
<g id="n_V11_e" class="n"><ellipse cx="5624" cy="718" rx="27" ry="18"/><text x="5624" y="723">V11</text></g>
<g id="n_V10_f" class="n"><ellipse cx="5923.5" cy="718" rx="27" ry="18"/><text x="5923.5" y="723">V10</text></g>
<g id="n_V40_c" class="n"><ellipse cx="6029" cy="718" rx="27" ry="18"/><text x="6029" y="723">V40</text></g>
<g id="n_V33" class="n"><ellipse cx="6146" cy="718" rx="27" ry="18"/><text x="6146" y="723">V33</text></g>
<g id="n_V17_k" class="n"><ellipse cx="6401.6" cy="718" rx="27" ry="18"/><text x="6401.6" y="723">V17</text></g>
<g id="n_V17_c" class="n"><ellipse cx="92" cy="805" rx="27" ry="18"/><text x="92" y="810">V17</text></g>
<g id="n_V11_a" class="n"><ellipse cx="379.6" cy="805" rx="27" ry="18"/><text x="379.6" y="810">V11</text></g>
<g id="n_V1_c" class="n"><ellipse cx="1113" cy="805" rx="27" ry="18"/><text x="1113" y="810">V1</text></g>
<g id="n_V1_j" class="n"><ellipse cx="2717" cy="805" rx="27" ry="18"/><text x="2717" y="810">V1</text></g>
<g id="n_V1_k" class="n"><ellipse cx="3056" cy="805" rx="27" ry="18"/><text x="3056" y="810">V1</text></g>
<g id="n_V9_c" class="n"><ellipse cx="3252.7" cy="805" rx="27" ry="18"/><text x="3252.7" y="810">V9</text></g>
<g id="n_V31_a" class="n"><ellipse cx="3550" cy="805" rx="27" ry="18"/><text x="3550" y="810">V31</text></g>
<g id="n_V2_b" class="n"><ellipse cx="3700.6" cy="805" rx="27" ry="18"/><text x="3700.6" y="810">V2</text></g>
<g id="n_V81_b" class="n"><ellipse cx="3989" cy="805" rx="27" ry="18"/><text x="3989" y="810">V81</text></g>
<g id="n_V20_b" class="n"><ellipse cx="4245" cy="805" rx="27" ry="18"/><text x="4245" y="810">V20</text></g>
<g id="n_V13_a" class="n"><ellipse cx="4403.5" cy="805" rx="27" ry="18"/><text x="4403.5" y="810">V13</text></g>
<g id="n_V10_b" class="n"><ellipse cx="4591.5" cy="805" rx="27" ry="18"/><text x="4591.5" y="810">V10</text></g>
<g id="n_V17_g" class="n"><ellipse cx="5073.5" cy="805" rx="27" ry="18"/><text x="5073.5" y="810">V17</text></g>
<g id="n_V9_d" class="n"><ellipse cx="5218" cy="805" rx="27" ry="18"/><text x="5218" y="810">V9</text></g>
<g id="n_V1_l" class="n"><ellipse cx="5624" cy="805" rx="27" ry="18"/><text x="5624" y="810">V1</text></g>
<g id="n_V11_f" class="n"><ellipse cx="5826" cy="805" rx="27" ry="18"/><text x="5826" y="810">V11</text></g>
<g id="n_V1_s" class="n"><ellipse cx="6241" cy="805" rx="27" ry="18"/><text x="6241" y="810">V1</text></g>
<g id="n_V1_d" class="n"><ellipse cx="89.5" cy="892" rx="27" ry="18"/><text x="89.5" y="897">V1</text></g>
<g id="n_V1_m" class="n"><ellipse cx="2668.6" cy="892" rx="27" ry="18"/><text x="2668.6" y="897">V1</text></g>
<g id="n_V36_b" class="n"><ellipse cx="3380.6" cy="892" rx="27" ry="18"/><text x="3380.6" y="897">V36</text></g>
<g id="n_V10_c" class="n"><ellipse cx="3559" cy="892" rx="27" ry="18"/><text x="3559" y="897">V10</text></g>
<g id="n_V2_c" class="n"><ellipse cx="3805.7" cy="892" rx="27" ry="18"/><text x="3805.7" y="897">V2</text></g>
<g id="n_V76_c" class="n"><ellipse cx="4094.6" cy="892" rx="27" ry="18"/><text x="4094.6" y="897">V76</text></g>
<g id="n_V3_b" class="n"><ellipse cx="4490" cy="892" rx="27" ry="18"/><text x="4490" y="897">V3</text></g>
<g id="n_V71" class="n"><ellipse cx="4619" cy="892" rx="27" ry="18"/><text x="4619" y="897">V71</text></g>
<g id="n_V8" class="n"><ellipse cx="4826.5" cy="892" rx="27" ry="18"/><text x="4826.5" y="897">V8</text></g>
<g id="n_V1_n" class="n"><ellipse cx="5073.5" cy="892" rx="27" ry="18"/><text x="5073.5" y="897">V1</text></g>
<g id="n_V16_c" class="n"><ellipse cx="3102" cy="979" rx="27" ry="18"/><text x="3102" y="984">V16</text></g>
<g id="n_V80" class="n"><ellipse cx="3344.8" cy="979" rx="27" ry="18"/><text x="3344.8" y="984">V80</text></g>
<g id="n_V12_b" class="n"><ellipse cx="3538.7" cy="979" rx="27" ry="18"/><text x="3538.7" y="984">V12</text></g>
<g id="n_V1_o" class="n"><ellipse cx="4161.5" cy="979" rx="27" ry="18"/><text x="4161.5" y="984">V1</text></g>
<g id="n_V2_d" class="n"><ellipse cx="4443.5" cy="979" rx="27" ry="18"/><text x="4443.5" y="984">V2</text></g>
<g id="n_V17_h" class="n"><ellipse cx="4615" cy="979" rx="27" ry="18"/><text x="4615" y="984">V17</text></g>
<g id="n_V1_p" class="n"><ellipse cx="4746" cy="979" rx="27" ry="18"/><text x="4746" y="984">V1</text></g>
<g id="n_V12_c" class="n"><ellipse cx="5056" cy="979" rx="27" ry="18"/><text x="5056" y="984">V12</text></g>
<g id="n_V78_c" class="n"><ellipse cx="3219" cy="1066" rx="27" ry="18"/><text x="3219" y="1071">V78</text></g>
<g id="n_V17_i" class="n"><ellipse cx="3375" cy="1066" rx="27" ry="18"/><text x="3375" y="1071">V17</text></g>
<g id="n_V17_j" class="n"><ellipse cx="4545" cy="1066" rx="27" ry="18"/><text x="4545" y="1071">V17</text></g>
<g id="n_V10_d" class="n"><ellipse cx="4746.5" cy="1066" rx="27" ry="18"/><text x="4746.5" y="1071">V10</text></g>
<g id="n_V13_b" class="n"><ellipse cx="3364" cy="1153" rx="27" ry="18"/><text x="3364" y="1158">V13</text></g>
<g id="n_V1_q" class="n"><ellipse cx="3412.7" cy="1240" rx="27" ry="18"/><text x="3412.7" y="1245">V1</text></g>
<g id="l1" class="l"><rect x="1791.15" y="265" width="73.7" height="36"/><text x="1828" y="288">2 (9.0/0.0)</text></g>
<g id="l2" class="l"><rect x="1616.15" y="352" width="73.7" height="36"/><text x="1653" y="375">0 (4.0/0.0)</text></g>
<g id="l3" class="l"><rect x="1279.15" y="439" width="73.7" height="36"/><text x="1316" y="462">4 (5.0/1.0)</text></g>
<g id="l4" class="l"><rect x="1373.15" y="439" width="87.7" height="36"/><text x="1417" y="462">2 (759.0/1.0)</text></g>
<g id="l5" class="l"><rect x="1479.65" y="439" width="80.7" height="36"/><text x="1520" y="462">1 (92.0/1.0)</text></g>
<g id="l6" class="l"><rect x="1575.65" y="439" width="80.7" height="36"/><text x="1616" y="462">2 (60.0/0.0)</text></g>
<g id="l7" class="l"><rect x="1675.65" y="439" width="94.7" height="36"/><text x="1723" y="462">1 (1078.0/0.0)</text></g>
<g id="l8" class="l"><rect x="1791.15" y="439" width="73.7" height="36"/><text x="1828" y="462">0 (3.0/1.0)</text></g>
<g id="l9" class="l"><rect x="657.65" y="526" width="73.7" height="36"/><text x="694.5" y="549">2 (2.0/0.0)</text></g>
<g id="l10" class="l"><rect x="749.15" y="526" width="87.7" height="36"/><text x="793" y="549">1 (285.0/4.0)</text></g>
<g id="l11" class="l"><rect x="1850.15" y="526" width="73.7" height="36"/><text x="1887" y="549">4 (6.0/0.0)</text></g>
<g id="l12" class="l"><rect x="1952.65" y="526" width="80.7" height="36"/><text x="1993" y="549">5 (20.0/0.0)</text></g>
<g id="l13" class="l"><rect x="321.65" y="613" width="87.7" height="36"/><text x="365.5" y="636">1 (140.0/1.0)</text></g>
<g id="l14" class="l"><rect x="769.65" y="613" width="80.7" height="36"/><text x="810" y="636">5 (26.0/0.0)</text></g>
<g id="l15" class="l"><rect x="1062.65" y="613" width="80.7" height="36"/><text x="1103" y="636">0 (35.0/1.0)</text></g>
<g id="l16" class="l"><rect x="1163.15" y="613" width="87.7" height="36"/><text x="1207" y="636">5 (144.0/0.0)</text></g>
<g id="l17" class="l"><rect x="1463.65" y="613" width="80.7" height="36"/><text x="1504" y="636">1 (32.0/0.0)</text></g>
<g id="l18" class="l"><rect x="59.15" y="700" width="80.7" height="36"/><text x="99.5" y="723">5 (28.0/1.0)</text></g>
<g id="l19" class="l"><rect x="549.65" y="700" width="80.7" height="36"/><text x="590" y="723">1 (37.0/0.0)</text></g>
<g id="l20" class="l"><rect x="647.65" y="700" width="80.7" height="36"/><text x="688" y="723">2 (18.0/0.0)</text></g>
<g id="l21" class="l"><rect x="752.15" y="700" width="87.7" height="36"/><text x="796" y="723">3 (126.0/1.0)</text></g>
<g id="l22" class="l"><rect x="970.65" y="700" width="80.7" height="36"/><text x="1011" y="723">1 (11.0/0.0)</text></g>
<g id="l23" class="l"><rect x="1163.15" y="700" width="73.7" height="36"/><text x="1200" y="723">3 (9.0/0.0)</text></g>
<g id="l24" class="l"><rect x="1268.15" y="700" width="73.7" height="36"/><text x="1305" y="723">5 (4.0/1.0)</text></g>
<g id="l25" class="l"><rect x="1380.15" y="700" width="73.7" height="36"/><text x="1417" y="723">4 (2.0/1.0)</text></g>
<g id="l26" class="l"><rect x="1470.65" y="700" width="80.7" height="36"/><text x="1511" y="723">0 (10.0/1.0)</text></g>
<g id="l27" class="l"><rect x="147.15" y="787" width="80.7" height="36"/><text x="187.5" y="810">0 (10.0/0.0)</text></g>
<g id="l28" class="l"><rect x="246.15" y="787" width="87.7" height="36"/><text x="290" y="810">2 (242.0/1.0)</text></g>
<g id="l29" class="l"><rect x="442.15" y="787" width="73.7" height="36"/><text x="479" y="810">0 (4.0/1.0)</text></g>
<g id="l30" class="l"><rect x="596.65" y="787" width="80.7" height="36"/><text x="637" y="810">1 (18.0/0.0)</text></g>
<g id="l31" class="l"><rect x="766.15" y="787" width="73.7" height="36"/><text x="803" y="810">5 (3.0/1.0)</text></g>
<g id="l32" class="l"><rect x="917.15" y="787" width="73.7" height="36"/><text x="954" y="810">1 (4.0/0.0)</text></g>
<g id="l33" class="l"><rect x="1174.65" y="787" width="80.7" height="36"/><text x="1215" y="810">4 (10.0/0.0)</text></g>
<g id="l34" class="l"><rect x="149.15" y="874" width="73.7" height="36"/><text x="186" y="897">2 (5.0/0.0)</text></g>
<g id="l35" class="l"><rect x="298.15" y="874" width="73.7" height="36"/><text x="335" y="897">1 (6.0/0.0)</text></g>
<g id="l36" class="l"><rect x="389.15" y="874" width="73.7" height="36"/><text x="426" y="897">4 (4.0/1.0)</text></g>
<g id="l37" class="l"><rect x="1024.15" y="874" width="73.7" height="36"/><text x="1061" y="897">5 (3.0/0.0)</text></g>
<g id="l38" class="l"><rect x="1128.15" y="874" width="73.7" height="36"/><text x="1165" y="897">3 (2.0/0.0)</text></g>
<g id="l39" class="l"><rect x="3.75" y="961" width="73.7" height="36"/><text x="40.6" y="984">4 (2.0/0.0)</text></g>
<g id="l40" class="l"><rect x="100.95" y="961" width="73.7" height="36"/><text x="137.8" y="984">3 (2.0/0.0)</text></g>
<g id="l41" class="l"><rect x="1997.15" y="439" width="80.7" height="36"/><text x="2037.5" y="462">1 (27.0/0.0)</text></g>
<g id="l42" class="l"><rect x="2101.65" y="439" width="80.7" height="36"/><text x="2142" y="462">0 (67.0/1.0)</text></g>
<g id="l43" class="l"><rect x="2267.65" y="439" width="73.7" height="36"/><text x="2304.5" y="462">3 (8.0/0.0)</text></g>
<g id="l44" class="l"><rect x="2425.15" y="439" width="101.7" height="36"/><text x="2476" y="462">4 (1368.0/10.0)</text></g>
<g id="l45" class="l"><rect x="2525.15" y="352" width="73.7" height="36"/><text x="2562" y="375">0 (8.0/2.0)</text></g>
<g id="l46" class="l"><rect x="2436.65" y="526" width="80.7" height="36"/><text x="2477" y="549">3 (11.0/1.0)</text></g>
<g id="l47" class="l"><rect x="2534.65" y="526" width="80.7" height="36"/><text x="2575" y="549">4 (23.0/0.0)</text></g>
<g id="l48" class="l"><rect x="2362.15" y="91" width="73.7" height="36"/><text x="2399" y="114">4 (2.0/0.0)</text></g>
<g id="l49" class="l"><rect x="2459.15" y="91" width="73.7" height="36"/><text x="2496" y="114">2 (5.0/0.0)</text></g>
<g id="l50" class="l"><rect x="2564.15" y="91" width="73.7" height="36"/><text x="2601" y="114">2 (7.0/0.0)</text></g>
<g id="l51" class="l"><rect x="2668.15" y="91" width="73.7" height="36"/><text x="2705" y="114">0 (5.0/0.0)</text></g>
<g id="l52" class="l"><rect x="2773.15" y="91" width="87.7" height="36"/><text x="2817" y="114">1 (107.0/0.0)</text></g>
<g id="l53" class="l"><rect x="2883.65" y="91" width="73.7" height="36"/><text x="2920.5" y="114">4 (6.0/0.0)</text></g>
<g id="l54" class="l"><rect x="2637.65" y="526" width="80.7" height="36"/><text x="2678" y="549">3 (23.0/1.0)</text></g>
<g id="l55" class="l"><rect x="2736.65" y="526" width="80.7" height="36"/><text x="2777" y="549">5 (46.0/1.0)</text></g>
<g id="l56" class="l"><rect x="2938.65" y="526" width="80.7" height="36"/><text x="2979" y="549">5 (29.0/0.0)</text></g>
<g id="l57" class="l"><rect x="2787.15" y="613" width="73.7" height="36"/><text x="2824" y="636">0 (6.0/1.0)</text></g>
<g id="l58" class="l"><rect x="2533.15" y="700" width="73.7" height="36"/><text x="2570" y="723">5 (2.0/0.0)</text></g>
<g id="l59" class="l"><rect x="2731.65" y="700" width="80.7" height="36"/><text x="2772" y="723">5 (22.0/0.0)</text></g>
<g id="l60" class="l"><rect x="2840.15" y="700" width="73.7" height="36"/><text x="2877" y="723">3 (7.0/0.0)</text></g>
<g id="l61" class="l"><rect x="2943.15" y="700" width="87.7" height="36"/><text x="2987" y="723">0 (122.0/0.0)</text></g>
<g id="l62" class="l"><rect x="3049.15" y="700" width="73.7" height="36"/><text x="3086" y="723">3 (5.0/0.0)</text></g>
<g id="l63" class="l"><rect x="2571.15" y="787" width="87.7" height="36"/><text x="2615" y="810">4 (414.0/1.0)</text></g>
<g id="l64" class="l"><rect x="2929.65" y="787" width="80.7" height="36"/><text x="2970" y="810">3 (15.0/0.0)</text></g>
<g id="l65" class="l"><rect x="3311.15" y="787" width="73.7" height="36"/><text x="3348" y="810">3 (2.0/0.0)</text></g>
<g id="l66" class="l"><rect x="3404.65" y="787" width="80.7" height="36"/><text x="3445" y="810">5 (33.0/0.0)</text></g>
<g id="l67" class="l"><rect x="4104.65" y="787" width="80.7" height="36"/><text x="4145" y="810">0 (35.0/0.0)</text></g>
<g id="l68" class="l"><rect x="4454.35" y="787" width="80.7" height="36"/><text x="4494.7" y="810">4 (14.0/0.0)</text></g>
<g id="l69" class="l"><rect x="4646.55" y="787" width="73.7" height="36"/><text x="4683.4" y="810">2 (2.0/0.0)</text></g>
<g id="l70" class="l"><rect x="4739.15" y="787" width="80.7" height="36"/><text x="4779.5" y="810">1 (97.0/0.0)</text></g>
<g id="l71" class="l"><rect x="4840.15" y="787" width="73.7" height="36"/><text x="4877" y="810">3 (3.0/1.0)</text></g>
<g id="l72" class="l"><rect x="4938.65" y="787" width="80.7" height="36"/><text x="4979" y="810">1 (18.0/0.0)</text></g>
<g id="l73" class="l"><rect x="5263.15" y="787" width="73.7" height="36"/><text x="5300" y="810">1 (4.0/0.0)</text></g>
<g id="l74" class="l"><rect x="5421.75" y="787" width="73.7" height="36"/><text x="5458.6" y="810">3 (3.0/0.0)</text></g>
<g id="l75" class="l"><rect x="5681.15" y="787" width="80.7" height="36"/><text x="5721.5" y="810">4 (35.0/0.0)</text></g>
<g id="l76" class="l"><rect x="2724.65" y="874" width="80.7" height="36"/><text x="2765" y="897">4 (11.0/1.0)</text></g>
<g id="l77" class="l"><rect x="2905.15" y="874" width="73.7" height="36"/><text x="2942" y="897">5 (3.0/0.0)</text></g>
<g id="l78" class="l"><rect x="2998.15" y="874" width="73.7" height="36"/><text x="3035" y="897">1 (6.0/0.0)</text></g>
<g id="l79" class="l"><rect x="3097.15" y="874" width="73.7" height="36"/><text x="3134" y="897">0 (2.0/0.0)</text></g>
<g id="l80" class="l"><rect x="3248.15" y="874" width="87.7" height="36"/><text x="3292" y="897">4 (113.0/5.0)</text></g>
<g id="l81" class="l"><rect x="3649.15" y="874" width="80.7" height="36"/><text x="3689.5" y="897">2 (17.0/0.0)</text></g>
<g id="l82" class="l"><rect x="3851.05" y="874" width="80.7" height="36"/><text x="3891.4" y="897">5 (14.0/0.0)</text></g>
<g id="l83" class="l"><rect x="3950.75" y="874" width="87.7" height="36"/><text x="3994.6" y="897">3 (108.0/3.0)</text></g>
<g id="l84" class="l"><rect x="4208.15" y="874" width="73.7" height="36"/><text x="4245" y="897">0 (8.0/1.0)</text></g>
<g id="l85" class="l"><rect x="4363.15" y="874" width="80.7" height="36"/><text x="4403.5" y="897">3 (32.0/0.0)</text></g>
<g id="l86" class="l"><rect x="4873.15" y="874" width="87.7" height="36"/><text x="4917" y="897">5 (560.0/8.0)</text></g>
<g id="l87" class="l"><rect x="5202.15" y="874" width="73.7" height="36"/><text x="5239" y="897">5 (8.0/0.0)</text></g>
<g id="l88" class="l"><rect x="5299.65" y="874" width="73.7" height="36"/><text x="5336.5" y="897">4 (9.0/0.0)</text></g>
<g id="l89" class="l"><rect x="5541.15" y="874" width="73.7" height="36"/><text x="5578" y="897">4 (3.0/0.0)</text></g>
<g id="l90" class="l"><rect x="5633.15" y="874" width="73.7" height="36"/><text x="5670" y="897">0 (3.0/0.0)</text></g>
<g id="l91" class="l"><rect x="2552.15" y="961" width="73.7" height="36"/><text x="2589" y="984">0 (3.0/0.0)</text></g>
<g id="l92" class="l"><rect x="2710.15" y="961" width="73.7" height="36"/><text x="2747" y="984">3 (3.0/0.0)</text></g>
<g id="l93" class="l"><rect x="3628.25" y="961" width="80.7" height="36"/><text x="3668.6" y="984">3 (14.0/0.0)</text></g>
<g id="l94" class="l"><rect x="3794.65" y="961" width="80.7" height="36"/><text x="3835" y="984">1 (27.0/0.0)</text></g>
<g id="l95" class="l"><rect x="3901.15" y="961" width="73.7" height="36"/><text x="3938" y="984">3 (3.0/0.0)</text></g>
<g id="l96" class="l"><rect x="4021.15" y="961" width="87.7" height="36"/><text x="4065" y="984">5 (291.0/0.0)</text></g>
<g id="l97" class="l"><rect x="4324.15" y="961" width="73.7" height="36"/><text x="4361" y="984">4 (7.0/0.0)</text></g>
<g id="l98" class="l"><rect x="4791.15" y="961" width="73.7" height="36"/><text x="4828" y="984">3 (6.0/0.0)</text></g>
<g id="l99" class="l"><rect x="4889.35" y="961" width="80.7" height="36"/><text x="4929.7" y="984">5 (14.0/0.0)</text></g>
<g id="l100" class="l"><rect x="5106.65" y="961" width="80.7" height="36"/><text x="5147" y="984">5 (12.0/0.0)</text></g>
<g id="l101" class="l"><rect x="2956.15" y="1048" width="73.7" height="36"/><text x="2993" y="1071">4 (9.0/0.0)</text></g>
<g id="l102" class="l"><rect x="3064.65" y="1048" width="73.7" height="36"/><text x="3101.5" y="1071">0 (2.0/1.0)</text></g>
<g id="l103" class="l"><rect x="3498.15" y="1048" width="80.7" height="36"/><text x="3538.5" y="1071">0 (39.0/0.0)</text></g>
<g id="l104" class="l"><rect x="3606.15" y="1048" width="73.7" height="36"/><text x="3643" y="1071">4 (5.0/1.0)</text></g>
<g id="l105" class="l"><rect x="4043.15" y="1048" width="73.7" height="36"/><text x="4080" y="1071">3 (5.0/0.0)</text></g>
<g id="l106" class="l"><rect x="4144.65" y="1048" width="80.7" height="36"/><text x="4185" y="1071">5 (11.0/0.0)</text></g>
<g id="l107" class="l"><rect x="4306.15" y="1048" width="73.7" height="36"/><text x="4343" y="1071">0 (4.0/1.0)</text></g>
<g id="l108" class="l"><rect x="4404.15" y="1048" width="73.7" height="36"/><text x="4441" y="1071">5 (6.0/0.0)</text></g>
<g id="l109" class="l"><rect x="4605.15" y="1048" width="73.7" height="36"/><text x="4642" y="1071">2 (2.0/1.0)</text></g>
<g id="l110" class="l"><rect x="4815.15" y="1048" width="73.7" height="36"/><text x="4852" y="1071">0 (4.0/0.0)</text></g>
<g id="l111" class="l"><rect x="4982.65" y="1048" width="73.7" height="36"/><text x="5019.5" y="1071">3 (7.0/0.0)</text></g>
<g id="l112" class="l"><rect x="5140.15" y="1048" width="73.7" height="36"/><text x="5177" y="1071">2 (3.0/0.0)</text></g>
<g id="l113" class="l"><rect x="3088.65" y="1135" width="80.7" height="36"/><text x="3129" y="1158">0 (15.0/0.0)</text></g>
<g id="l114" class="l"><rect x="3190.15" y="1135" width="80.7" height="36"/><text x="3230.5" y="1158">3 (25.0/1.0)</text></g>
<g id="l115" class="l"><rect x="3430.85" y="1135" width="73.7" height="36"/><text x="3467.7" y="1158">2 (3.0/0.0)</text></g>
<g id="l116" class="l"><rect x="4458.15" y="1135" width="73.7" height="36"/><text x="4495" y="1158">5 (2.0/0.0)</text></g>
<g id="l117" class="l"><rect x="4550.15" y="1135" width="87.7" height="36"/><text x="4594" y="1158">3 (261.0/1.0)</text></g>
<g id="l118" class="l"><rect x="4664.85" y="1135" width="73.7" height="36"/><text x="4701.7" y="1158">2 (2.0/1.0)</text></g>
<g id="l119" class="l"><rect x="4756.75" y="1135" width="73.7" height="36"/><text x="4793.6" y="1158">5 (3.0/0.0)</text></g>
<g id="l120" class="l"><rect x="3272.15" y="1222" width="87.7" height="36"/><text x="3316" y="1245">3 (555.0/8.0)</text></g>
<g id="l121" class="l"><rect x="3326.15" y="1309" width="73.7" height="36"/><text x="3363" y="1332">3 (2.0/0.0)</text></g>
<g id="l122" class="l"><rect x="3423.75" y="1309" width="73.7" height="36"/><text x="3460.6" y="1332">5 (4.0/0.0)</text></g>
<g id="l123" class="l"><rect x="6405.15" y="439" width="80.7" height="36"/><text x="6445.5" y="462">0 (30.0/0.0)</text></g>
<g id="l124" class="l"><rect x="6315.65" y="526" width="80.7" height="36"/><text x="6356" y="549">2 (11.0/1.0)</text></g>
<g id="l125" class="l"><rect x="6419.65" y="526" width="80.7" height="36"/><text x="6460" y="549">4 (39.0/0.0)</text></g>
<g id="l126" class="l"><rect x="6244.15" y="613" width="73.7" height="36"/><text x="6281" y="636">2 (2.0/3.0)</text></g>
<g id="l127" class="l"><rect x="6201.25" y="700" width="80.7" height="36"/><text x="6241.6" y="723">1 (34.0/0.0)</text></g>
<g id="l128" class="l"><rect x="6447.15" y="700" width="87.7" height="36"/><text x="6491" y="723">0 (921.0/2.0)</text></g>
<g id="l129" class="l"><rect x="5883.15" y="787" width="80.7" height="36"/><text x="5923.5" y="810">3 (28.0/1.0)</text></g>
<g id="l130" class="l"><rect x="5992.15" y="787" width="73.7" height="36"/><text x="6029" y="810">3 (3.0/0.0)</text></g>
<g id="l131" class="l"><rect x="6086.15" y="787" width="87.7" height="36"/><text x="6130" y="810">0 (336.0/5.0)</text></g>
<g id="l132" class="l"><rect x="6330.65" y="787" width="80.7" height="36"/><text x="6371" y="810">0 (40.0/0.0)</text></g>
<g id="l133" class="l"><rect x="6431.15" y="787" width="73.7" height="36"/><text x="6468" y="810">3 (8.0/0.0)</text></g>
<g id="l134" class="l"><rect x="5757.65" y="874" width="80.7" height="36"/><text x="5798" y="897">0 (23.0/1.0)</text></g>
<g id="l135" class="l"><rect x="5858.15" y="874" width="73.7" height="36"/><text x="5895" y="897">4 (2.0/0.0)</text></g>
<g id="l136" class="l"><rect x="6150.65" y="874" width="80.7" height="36"/><text x="6191" y="897">3 (85.0/0.0)</text></g>
<g id="l137" class="l"><rect x="6251.15" y="874" width="73.7" height="36"/><text x="6288" y="897">4 (2.0/0.0)</text></g>
</g>
</svg>
